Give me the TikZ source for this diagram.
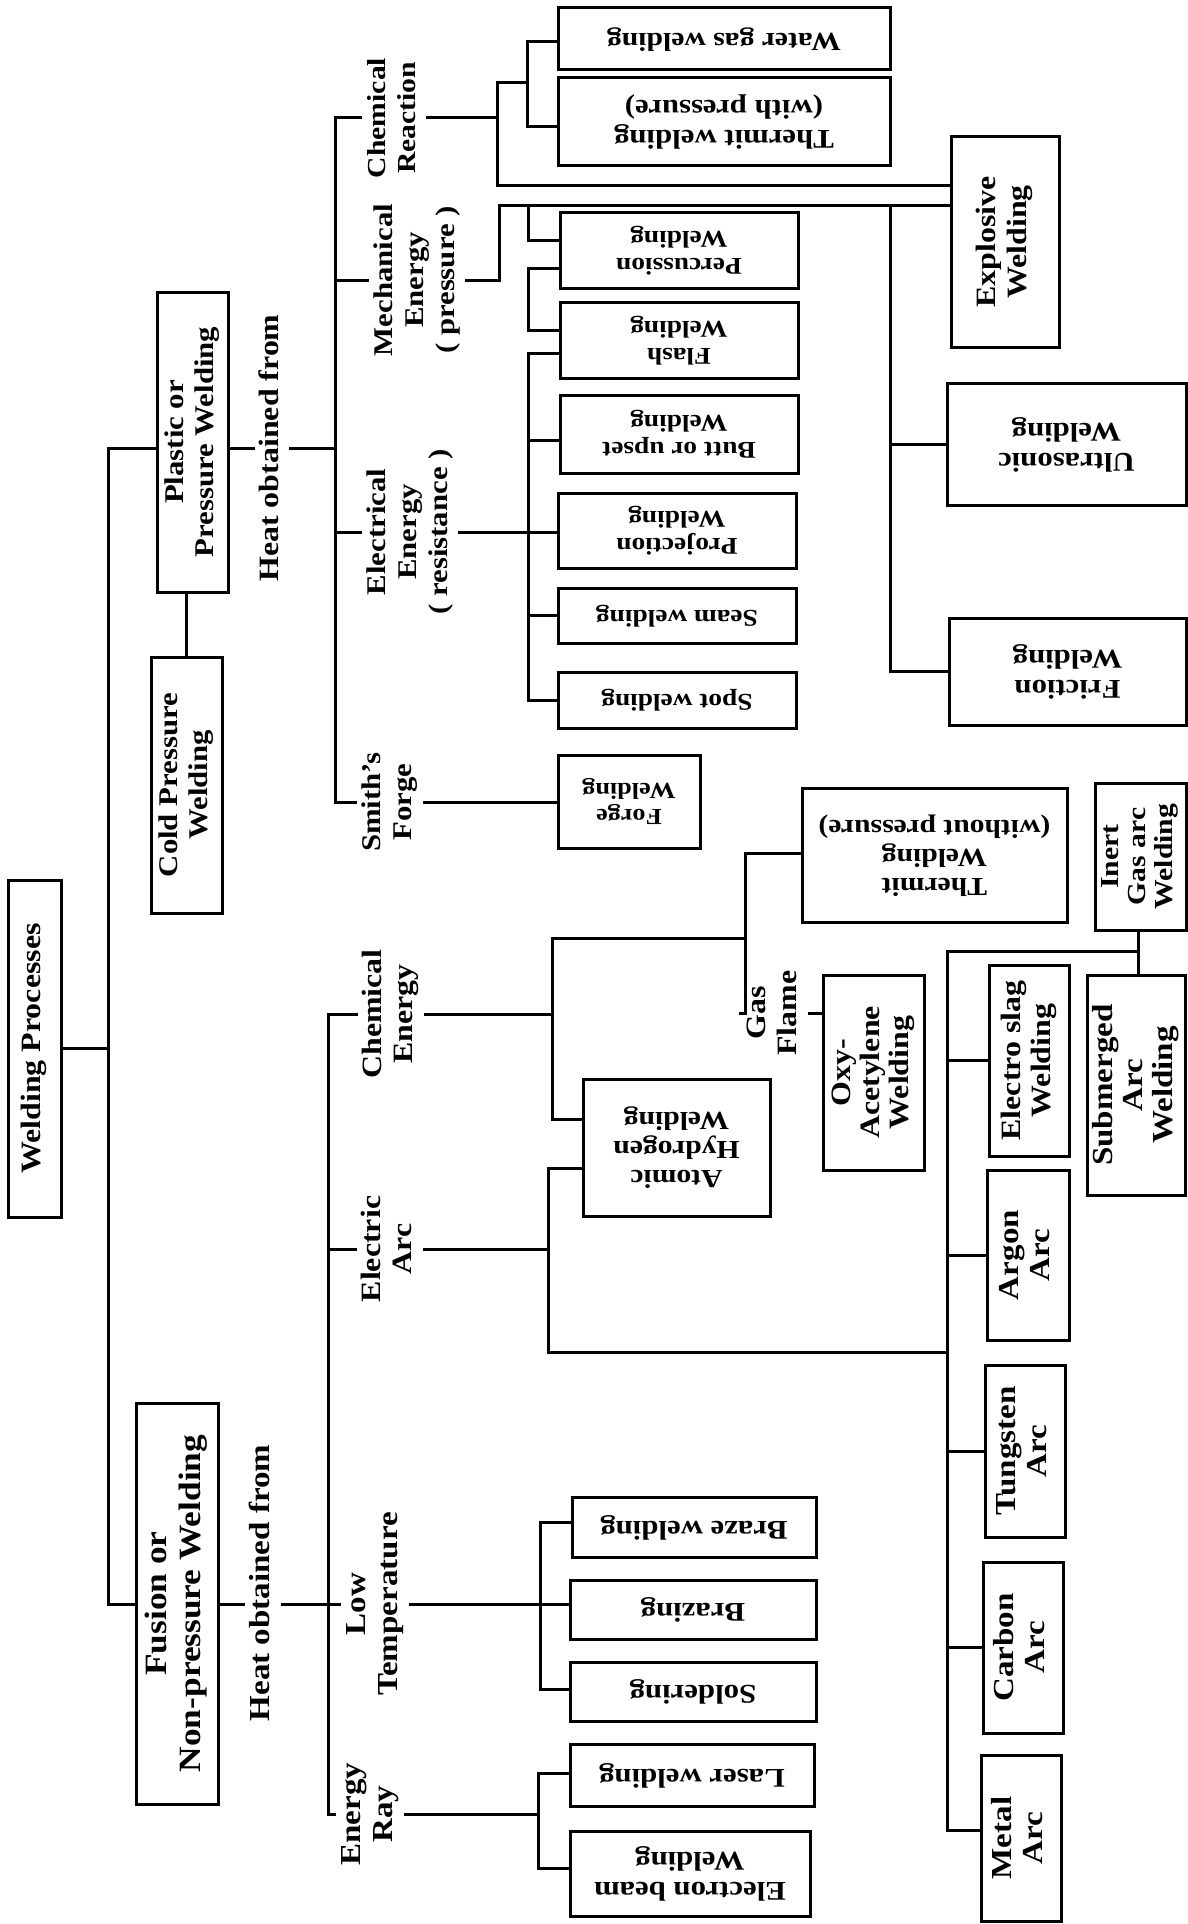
\documentclass[tikz,border=0pt]{standalone}
\usepackage{fontspec}
\setmainfont{Liberation Serif}[FakeStretch=1.14]
\newcommand{\vtext}[1]{\rotatebox{90}{\begin{tabular}{@{}c@{}}#1\end{tabular}}}
\newcommand{\utext}[1]{\rotatebox{180}{\begin{tabular}{@{}c@{}}#1\end{tabular}}}
\begin{document}
\begin{tikzpicture}[x=1pt,y=-1pt,
 box/.style={draw,line width=3pt,inner sep=0pt,fill=white},
 lbl/.style={inner sep=3pt},
 conn/.style={line width=3pt,line cap=rect},
 fs/.style 2 args={font=\bfseries\fontsize{#1}{#2}\selectfont}]
\fill[white] (0,0) rectangle (1188,1924);
\useasboundingbox (0,0) rectangle (1188,1924);

% main boxes
\node[box,fs={28}{31},minimum width=53pt,minimum height=337pt] (wp) at (34.5,1048.5) {\vtext{Welding Processes}};
\node[box,fs={27}{30},minimum width=71pt,minimum height=300pt] (plastic) at (192.5,442) {\vtext{Plastic or\\Pressure Welding}};
\node[box,fs={27}{30},minimum width=71pt,minimum height=256pt] (cold) at (186.5,785) {\vtext{Cold Pressure\\Welding}};
\node[box,fs={31}{34},minimum width=82pt,minimum height=401pt] (fusion) at (177,1603.5) {\vtext{Fusion or\\Non-pressure Welding}};

% labels
\node[lbl,fs={28}{31}] (heatP) at (272,448) {\vtext{Heat obtained from}};
\node[lbl,fs={29}{32}] (heatF) at (263,1583) {\vtext{Heat obtained from}};
\node[lbl,fs={26}{30}] (chemR) at (394,118) {\vtext{Chemical\\Reaction}};
\node[lbl,fs={27}{31}] (mech) at (417,280) {\vtext{Mechanical\\Energy\\( pressure )}};
\node[lbl,fs={27}{31}] (elec) at (410,532) {\vtext{Electrical\\Energy\\( resistance )}};
\node[lbl,fs={27}{31}] (smith) at (390,802) {\vtext{Smith's\\Forge}};
\node[lbl,fs={28}{31}] (chemE) at (391,1014) {\vtext{Chemical\\Energy}};
\node[lbl,fs={28}{31}] (arc) at (390,1249) {\vtext{Electric\\Arc}};
\node[lbl,fs={29}{32}] (lowT) at (375,1604) {\vtext{Low\\Temperature}};
\node[lbl,fs={29}{32}] (ray) at (370,1814) {\vtext{Energy\\Ray}};
\node[lbl,fs={28}{31}] (gas) at (775,1013) {\vtext{Gas\\Flame}};

% pressure leaves
\node[box,fs={26}{29},minimum width=332pt,minimum height=62pt] (water) at (724,39) {\utext{Water gas welding}};
\node[box,fs={27}{30},minimum width=332pt,minimum height=87pt] (thermP) at (724,121.5) {\utext{Thermit welding\\(with pressure)}};
\node[box,fs={24}{27},minimum width=238pt,minimum height=76pt] (perc) at (679,250) {\utext{Percussion\\Welding}};
\node[box,fs={24}{27},minimum width=238pt,minimum height=76pt] (flash) at (679,340) {\utext{Flash\\Welding}};
\node[box,fs={24}{27},minimum width=238pt,minimum height=78pt] (butt) at (679,434) {\utext{Butt or upset\\Welding}};
\node[box,fs={24}{27},minimum width=238pt,minimum height=75pt] (proj) at (677,530.5) {\utext{Projection\\Welding}};
\node[box,fs={24}{27},minimum width=238pt,minimum height=55pt] (seam) at (677,615.5) {\utext{Seam welding}};
\node[box,fs={24}{27},minimum width=238pt,minimum height=56pt] (spot) at (677,700) {\utext{Spot welding}};
\node[box,fs={23}{26},minimum width=142pt,minimum height=93pt] (forge) at (629,801.5) {\utext{Forge\\Welding}};
\node[box,fs={28}{31},minimum width=108pt,minimum height=210pt] (explosive) at (1005,242) {\vtext{Explosive\\Welding}};
\node[box,fs={27}{30},minimum width=239pt,minimum height=122pt] (ultra) at (1066.5,444) {\utext{Ultrasonic\\Welding}};
\node[box,fs={27}{30},minimum width=237pt,minimum height=107pt] (friction) at (1067.5,671.5) {\utext{Friction\\Welding}};

% fusion leaves
\node[box,fs={26}{29},minimum width=265pt,minimum height=134pt] (thermF) at (934.5,855) {\utext{Thermit\\Welding\\(without pressure)}};
\node[box,fs={26}{29},minimum width=187pt,minimum height=137pt] (atomic) at (676.5,1147.5) {\utext{Atomic\\Hydrogen\\Welding}};
\node[box,fs={28}{29},minimum width=101pt,minimum height=195pt] (oxy) at (873.5,1072.5) {\vtext{Oxy-\\Acetylene\\Welding}};
\node[box,fs={26}{27},minimum width=91pt,minimum height=147pt] (inert) at (1140.5,856.5) {\vtext{Inert\\Gas arc\\Welding}};
\node[box,fs={28}{30},minimum width=80pt,minimum height=191pt] (eslag) at (1029,1060.5) {\vtext{Electro slag\\Welding}};
\node[box,fs={29}{30},minimum width=98pt,minimum height=220pt] (subm) at (1136,1085) {\vtext{Submerged\\Arc\\Welding}};
\node[box,fs={29}{31},minimum width=82pt,minimum height=170pt] (argon) at (1028,1255) {\vtext{Argon\\Arc}};
\node[box,fs={29}{31},minimum width=80pt,minimum height=172pt] (tung) at (1025,1451) {\vtext{Tungsten\\Arc}};
\node[box,fs={29}{31},minimum width=80pt,minimum height=171pt] (carbon) at (1023,1647.5) {\vtext{Carbon\\Arc}};
\node[box,fs={29}{31},minimum width=80pt,minimum height=166pt] (metal) at (1021,1838) {\vtext{Metal\\Arc}};
\node[box,fs={27}{30},minimum width=244pt,minimum height=60pt] (braze) at (694,1527) {\utext{Braze welding}};
\node[box,fs={27}{30},minimum width=246pt,minimum height=59pt] (brazing) at (693,1609.5) {\utext{Brazing}};
\node[box,fs={27}{30},minimum width=246pt,minimum height=59pt] (solder) at (693,1691.5) {\utext{Soldering}};
\node[box,fs={27}{30},minimum width=244pt,minimum height=62pt] (laser) at (692,1775) {\utext{Laser welding}};
\node[box,fs={27}{30},minimum width=240pt,minimum height=85pt] (ebeam) at (690,1873.5) {\utext{Electron beam\\Welding}};

% junction coordinates
\coordinate (t0top) at (108,448);
\coordinate (t0bot) at (108,1604);
\coordinate (ptop) at (335,118);
\coordinate (pbot) at (335,802);
\coordinate (ftop) at (328,1014);
\coordinate (fbot) at (328,1814);
\coordinate (cr1) at (497,83);
\coordinate (cr2) at (497,185);
\coordinate (cr3) at (527,42);
\coordinate (cr4) at (527,127);
\coordinate (m1) at (499,205);
\coordinate (m2) at (528,240);
\coordinate (m3) at (890,205);
\coordinate (fb1) at (528,268);
\coordinate (fb2) at (528,330);
\coordinate (e1) at (528,353);
\coordinate (e2) at (528,700);
\coordinate (e3) at (528,440);
\coordinate (c1) at (552,938);
\coordinate (c2) at (552,1119);
\coordinate (g1) at (745,853);
\coordinate (a1) at (548,1168);
\coordinate (a2) at (548,1352);
\coordinate (a3) at (947,1352);
\coordinate (a4) at (947,951);
\coordinate (a5) at (1138,951);
\coordinate (a6) at (947,1830);
\coordinate (l1) at (540,1522);
\coordinate (l2) at (540,1689);
\coordinate (r1) at (538,1773);
\coordinate (r2) at (538,1868);

% main trunk
\draw[conn] (plastic.west |- t0top) -- (t0top) -- (t0bot) -- (fusion.west |- t0bot);
\draw[conn] (wp.east) -- (wp.east -| t0top);
\draw[conn] (cold.north |- plastic.south) -- (cold.north);

% pressure side
\draw[conn] (plastic.east |- t0top) -- (heatP.west |- t0top);
\draw[conn] (heatP.east |- t0top) -- (ptop |- t0top);
\draw[conn] (ptop) -- (pbot);
\draw[conn] (ptop) -- (chemR.west);
\draw[conn] (ptop |- mech.west) -- (mech.west);
\draw[conn] (ptop |- elec.west) -- (elec.west);
\draw[conn] (pbot) -- (smith.west);
\draw[conn] (smith.east) -- (forge.west |- smith.east);

% chemical reaction
\draw[conn] (chemR.east) -- (chemR.east -| cr1);
\draw[conn] (cr1) -- (cr2) -- (cr2 -| explosive.west);
\draw[conn] (cr1) -- (cr1 -| cr3);
\draw[conn] (cr3 -| water.west) -- (cr3) -- (cr4) -- (cr4 -| thermP.west);

% mechanical
\draw[conn] (mech.east) -- (mech.east -| m1) -- (m1) -- (m1 -| explosive.west);
\draw[conn] (m1 -| m2) -- (m2) -- (m2 -| perc.west);
\draw[conn] (m3) -- (m3 |- friction.west) -- (friction.west);
\draw[conn] (m3 |- ultra.west) -- (ultra.west);
\draw[conn] (perc.west |- fb1) -- (fb1) -- (fb2) -- (fb2 -| flash.west);

% electrical
\draw[conn] (e1 -| flash.west) -- (e1) -- (e2) -- (e2 -| spot.west);
\draw[conn] (e3) -- (e3 -| butt.west);
\draw[conn] (elec.east) -- (elec.east -| proj.west);
\draw[conn] (e1 |- seam.west) -- (seam.west);

% fusion side
\draw[conn] (fusion.east |- t0bot) -- (heatF.west |- t0bot);
\draw[conn] (heatF.east |- t0bot) -- (lowT.west |- t0bot);
\draw[conn] (ftop) -- (fbot);
\draw[conn] (ftop) -- (chemE.west);
\draw[conn] (ftop |- arc.west) -- (arc.west);
\draw[conn] (fbot) -- (ray.west);

% chemical energy
\draw[conn] (chemE.east) -- (chemE.east -| c1);
\draw[conn] (c1 -| g1) -- (c1) -- (c2) -- (c2 -| atomic.west);
\draw[conn] (thermF.west |- g1) -- (g1) |- (gas.west);
\draw[conn] (gas.east) -- (gas.east -| oxy.west);

% electric arc
\draw[conn] (arc.east) -- (arc.east -| a1);
\draw[conn] (a1 -| atomic.west) -- (a1) -- (a2) -- (a3);
\draw[conn] (a5) -- (a4) -- (a6) -- (a6 -| metal.west);
\draw[conn] (inert.south -| a5) -- (subm.north -| a5);
\draw[conn] (a4 |- eslag.west) -- (eslag.west);
\draw[conn] (a4 |- argon.west) -- (argon.west);
\draw[conn] (a4 |- tung.west) -- (tung.west);
\draw[conn] (a4 |- carbon.west) -- (carbon.west);

% low temperature
\draw[conn] (lowT.east) -- (lowT.east -| brazing.west);
\draw[conn] (l1 -| braze.west) -- (l1) -- (l2) -- (l2 -| solder.west);

% energy ray
\draw[conn] (ray.east) -- (ray.east -| r1);
\draw[conn] (r1 -| laser.west) -- (r1) -- (r2) -- (r2 -| ebeam.west);
\end{tikzpicture}
\end{document}
